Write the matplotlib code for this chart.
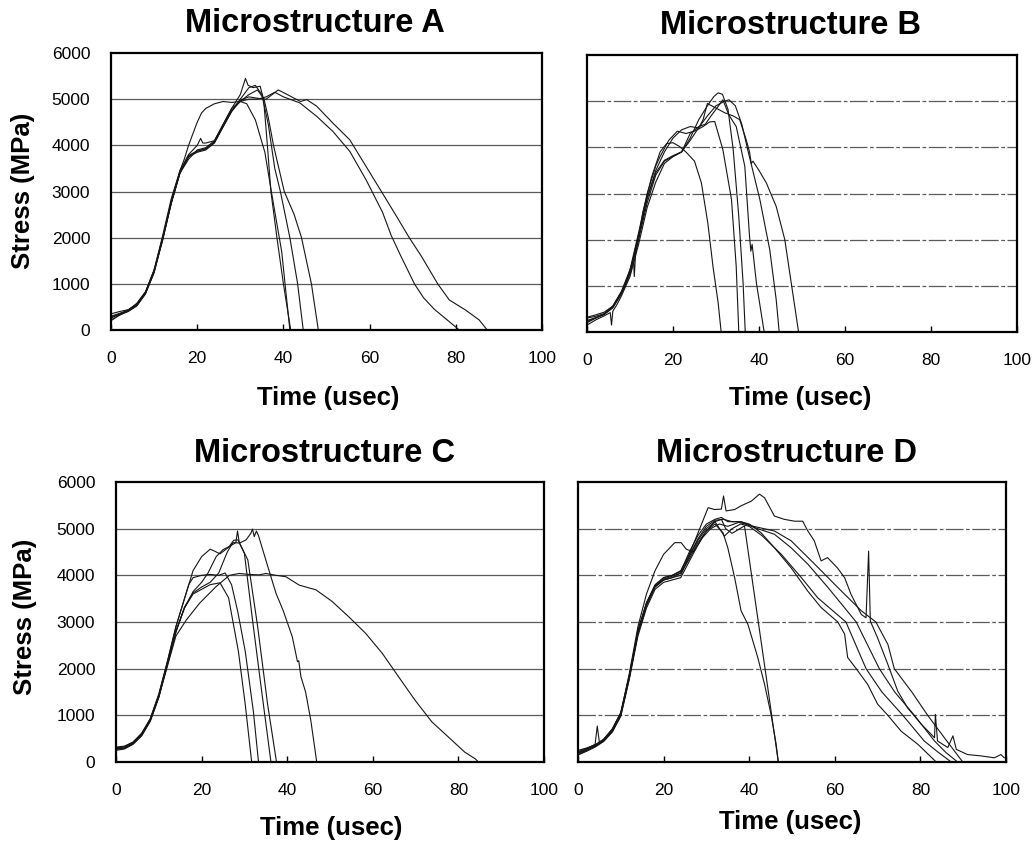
import numpy as np
import matplotlib
matplotlib.use("Agg")
import matplotlib.pyplot as plt

plt.rcParams['font.family'] = ['Liberation Sans', 'DejaVu Sans']

W, H = 1034, 843

# ---- Microstructure A : time (usec) / stress (MPa) per specimen ----
a_time = [
    [0, 2, 4, 6, 8, 10, 12, 14, 16, 17, 18, 19, 20, 21, 22, 24, 26, 28, 30, 31.5, 33.5, 35.7, 37.2, 39.6, 41.5],
    [0, 2, 4, 6, 8, 10, 12, 14, 16, 18, 19, 20, 20.8, 21.3, 22, 24, 26, 28, 30, 31.2, 31.8, 33, 34.6, 35.4, 36.2, 37.1, 38.5, 40, 41.7],
    [0, 2, 4, 6, 8, 10, 12, 14, 16, 18, 20, 22, 24, 26, 28, 30, 32, 33.5, 35, 36.5, 38, 39.3, 41.5, 43.3, 44.6],
    [0, 2, 4, 6, 8, 10, 12, 14, 16, 18, 20, 22, 24, 26, 28, 30, 32, 34, 35.5, 36.5, 37.7, 40.2, 42.5, 44.2, 46.5, 48.1],
    [0, 2, 4, 6, 8, 10, 12, 14, 16, 18, 20, 22, 24, 26, 28, 30, 32, 34, 36, 38, 40, 43.8, 47.7, 51.5, 55.4, 59.2, 63, 65, 67, 70.4, 72.5, 75, 78.5, 80.8],
    [0, 2, 4, 6, 8, 10, 12, 14, 16, 18, 20, 22, 24, 26, 28, 30, 32, 34, 36, 38.8, 40.5, 42.3, 44, 45.4, 47.7, 51.5, 55.4, 59.2, 63, 66, 69.2, 72, 75.8, 78.5, 82.3, 85.4, 87.3],
]
a_stress = [
    [300, 360, 430, 580, 830, 1300, 2050, 2850, 3450, 3700, 4000, 4250, 4500, 4700, 4800, 4900, 4950, 4930, 4950, 4900, 4550, 3850, 3000, 1700, 0],
    [200, 330, 400, 520, 780, 1250, 2000, 2800, 3450, 3800, 3900, 4000, 4150, 4050, 4050, 4100, 4450, 4800, 5100, 5450, 5300, 5250, 5280, 5000, 4100, 3000, 2000, 1000, 0],
    [350, 400, 440, 560, 820, 1300, 2000, 2750, 3400, 3750, 3850, 3900, 4050, 4400, 4750, 5000, 5250, 5300, 5100, 4450, 3500, 3000, 2000, 1000, 0],
    [260, 340, 420, 540, 800, 1280, 1950, 2750, 3400, 3700, 3900, 3950, 4100, 4450, 4800, 4950, 5100, 5200, 5000, 4600, 4000, 3000, 2500, 2000, 1000, 0],
    [280, 350, 430, 560, 810, 1270, 1980, 2780, 3420, 3780, 3880, 3920, 4080, 4420, 4750, 4950, 5000, 5000, 5050, 5150, 5050, 4920, 4630, 4300, 3870, 3250, 2550, 2050, 1650, 1000, 700, 450, 180, 0],
    [220, 320, 410, 540, 790, 1240, 1960, 2760, 3400, 3760, 3870, 3930, 4060, 4400, 4730, 4980, 5050, 5020, 5000, 5200, 5120, 5030, 4950, 4990, 4850, 4480, 4120, 3540, 2960, 2500, 2000, 1600, 1000, 650, 430, 220, 0],
]

# ---- Microstructure B ----
b_time = [
    [0, 2, 4, 6, 8, 9, 10, 10.8, 11, 11.3, 12, 13, 15, 17, 18.5, 20, 21.5, 23, 25, 26.6, 28.1, 29.3, 30.5, 31.2],
    [0, 2, 4, 6, 8, 10, 12, 14, 16, 17, 19, 21, 23, 25, 27, 28.5, 29.7, 31.6, 33.6, 34.7, 35.3],
    [0, 2, 4, 6, 8, 10, 12, 14, 16, 18, 20, 22, 24, 26, 28, 29.5, 30.5, 31.5, 32.8, 34, 35.3, 36.3, 36.8],
    [0, 2, 4, 5.4, 5.7, 6, 7, 8, 10, 12, 14, 16, 18, 20, 22, 24, 26, 27.5, 29, 31, 31.6, 33, 34.7, 36.7, 37.8, 38.1, 38.4, 39.4, 41.2],
    [0, 2, 4, 6, 8, 10, 12, 14, 16, 18, 20, 22, 24, 26, 28, 30, 32, 33, 34.5, 36, 37.5, 40.2, 42.5, 44, 44.7],
    [0, 2, 4, 6, 8, 10, 12, 14, 16, 18, 20, 22, 24, 26, 27, 28, 30, 32, 34, 35.5, 37, 37.8, 38.2, 38.6, 40, 41.7, 44, 46, 47.5, 49.2],
]
b_stress = [
    [200, 300, 380, 550, 850, 1050, 1350, 1600, 1200, 1700, 2050, 2600, 3350, 3900, 4080, 4100, 4020, 3900, 3700, 3230, 2360, 1420, 630, 0],
    [300, 340, 400, 560, 880, 1350, 2150, 3000, 3600, 3800, 4150, 4350, 4300, 4350, 4450, 4550, 4560, 3950, 2870, 1420, 0],
    [250, 310, 380, 520, 820, 1250, 2000, 2800, 3400, 3700, 3800, 3900, 4200, 4600, 4900, 5100, 5180, 5150, 4820, 3950, 2500, 1060, 0],
    [150, 260, 350, 420, 150, 450, 600, 780, 1200, 1900, 2700, 3250, 3650, 3800, 3900, 4300, 4450, 4500, 4700, 4950, 5030, 4700, 4450, 3590, 2070, 1750, 1900, 1060, 0],
    [320, 370, 430, 560, 860, 1300, 2100, 2900, 3450, 3720, 3820, 3900, 4150, 4430, 4680, 4900, 5000, 5030, 4900, 4500, 3900, 2870, 1780, 700, 0],
    [230, 300, 390, 540, 850, 1300, 2050, 2900, 3500, 3900, 4200, 4380, 4450, 4420, 4600, 4950, 4850, 4750, 4680, 4600, 4170, 3900, 3650, 3700, 3500, 3230, 2720, 2000, 1060, 0],
]

# ---- Microstructure C ----
c_time = [
    [0, 2, 4, 6, 8, 10, 12, 14, 16, 18, 20, 22, 24.3, 26.3, 28.6, 30.2, 31.7],
    [0, 2, 4, 6, 8, 10, 12, 14, 16, 17, 18, 20, 22, 24, 25.5, 27, 28.5, 30.2, 32.1, 33.3],
    [0, 2, 4, 6, 8, 10, 12, 14, 16, 18, 20, 22, 24, 26, 27.3, 28, 28.4, 28.8, 30, 31.9, 33.9, 36.2],
    [0, 2, 4, 6, 8, 10, 12, 14, 16, 17, 18, 19, 20, 22, 23, 24.3, 26.3, 27.5, 28.5, 30.8, 33.1, 35.4, 37.5],
    [0, 2, 4, 6, 8, 10, 12, 14, 16, 18, 20, 21.5, 23.4, 25, 26.5, 28, 28.8, 30.4, 31.5, 31.9, 32.3, 32.8, 33.3, 35, 37.4, 39, 41.2, 42.4, 42.7, 43.2, 44.3, 45.5, 46.9],
    [0, 2, 4, 6, 8, 10, 12, 14, 16.4, 19.5, 23.4, 26.5, 28.8, 31, 33.5, 35, 37.4, 39.7, 42.8, 46.7, 50.5, 54.4, 58.3, 62.2, 66, 69.9, 73.8, 77.6, 81.5, 83.9, 84.7],
]
c_stress = [
    [280, 300, 400, 580, 900, 1400, 2100, 2800, 3300, 3600, 3700, 3800, 3840, 3520, 2370, 1230, 0],
    [320, 340, 430, 620, 930, 1450, 2150, 2900, 3500, 3800, 3950, 4000, 4020, 4000, 4050, 3800, 3200, 2370, 1080, 0],
    [250, 280, 380, 560, 870, 1380, 2080, 2780, 3320, 3620, 3750, 3850, 4050, 4500, 4700, 4700, 4950, 4700, 4470, 3040, 1610, 0],
    [300, 330, 420, 600, 920, 1450, 2150, 2900, 3500, 3800, 4100, 4250, 4400, 4560, 4520, 4460, 4600, 4750, 4760, 4330, 2900, 1250, 0],
    [270, 290, 390, 570, 880, 1400, 2100, 2800, 3300, 3650, 3850, 4050, 4400, 4550, 4620, 4700, 4690, 4760, 4900, 4990, 4830, 4950, 4850, 4330, 3610, 3260, 2680, 2150, 2170, 1830, 1500, 900, 0],
    [300, 320, 410, 590, 900, 1400, 2050, 2700, 3040, 3400, 3760, 4000, 4040, 4020, 4010, 4040, 4000, 3970, 3790, 3690, 3440, 3110, 2760, 2330, 1830, 1320, 860, 540, 210, 70, 0],
]

# ---- Microstructure D ----
d_time = [
    [0, 2, 4, 6, 8, 10, 12, 14, 16, 18, 20, 22, 24, 26, 28, 30, 32, 33.9, 35, 36.6, 38.1, 39.7, 42, 43.6, 45.1, 46.3, 46.8],
    [0, 2, 4, 6, 8, 10, 12, 14, 16, 18, 20, 22, 24, 26, 28, 30, 32, 33.5, 34.5, 36, 38.9, 41.2, 44, 46.8],
    [0, 2, 4, 4.5, 5, 6, 8, 10, 12, 14, 16, 18, 20, 22, 24, 26, 28, 30.4, 31.9, 33.5, 34, 34.6, 36.6, 38.1, 40.5, 42.4, 43.6, 45.9, 48.2, 50.6, 52.5, 53.7, 55.2, 56.8, 58.3, 60.6, 62.3, 63.8, 66.2, 67.3, 67.9, 68.3, 70, 72.4, 74.7, 77, 80.2, 83.3, 83.5, 84, 86.4, 87.6, 88.4, 91, 94.2, 97.3, 98.8, 99.6],
    [0, 2, 4, 6, 8, 10, 12, 14, 16, 18, 20, 22.6, 24.1, 25.3, 27, 29, 31, 33, 35, 38, 40, 42.8, 45.9, 49.8, 53.7, 56.8, 60.7, 62.3, 63, 65, 67.7, 70, 72.4, 75.5, 79.4, 83.7],
    [0, 2, 4, 6, 8, 10, 12, 14, 16, 18, 20, 22, 24, 26, 28, 30, 32, 34.2, 36, 38, 40, 43, 47.5, 52.2, 56, 62.6, 67.3, 71, 75.9, 80.9, 84, 87.2],
    [0, 2, 4, 6, 8, 10, 12, 14, 16, 18, 20, 22, 24, 26, 28, 30, 32, 33.5, 35, 37, 39, 42, 45.9, 49.8, 53.7, 58.4, 65, 70.4, 74, 78.6, 83.3, 86, 88.7],
    [0, 2, 4, 6, 8, 10, 12, 14, 16, 18, 20, 22, 24, 26, 28, 30, 32, 34, 36, 38, 41, 45.9, 49.8, 55.3, 60.7, 66.2, 69.6, 72.4, 73.9, 78, 81.7, 85.6, 89.9],
]
d_stress = [
    [180, 250, 330, 450, 650, 1000, 1800, 2750, 3350, 3750, 3900, 3950, 4050, 4350, 4700, 4950, 5100, 4910, 4590, 3950, 3240, 2950, 2240, 1660, 1020, 380, 0],
    [150, 230, 320, 440, 640, 980, 1780, 2700, 3300, 3700, 3850, 3900, 3950, 4300, 4650, 4950, 5150, 5200, 5000, 4900, 5060, 3590, 1810, 0],
    [200, 280, 380, 770, 420, 480, 680, 1050, 1850, 2800, 3400, 3800, 3950, 4000, 4100, 4450, 4900, 5450, 5410, 5420, 5700, 5380, 5410, 5490, 5590, 5740, 5660, 5270, 5200, 5160, 5160, 4950, 4740, 4310, 4380, 4160, 3950, 3590, 3160, 3090, 4520, 3020, 2660, 2090, 1520, 1160, 810, 520, 1020, 450, 310, 560, 270, 160, 130, 90, 160, 90],
    [220, 290, 360, 480, 700, 1050, 1900, 2900, 3600, 4100, 4450, 4700, 4700, 4560, 4500, 4800, 5000, 5100, 5050, 5150, 5100, 4910, 4590, 4160, 3660, 3310, 3000, 2740, 2240, 2000, 1660, 1240, 1000, 660, 380, 0],
    [160, 240, 340, 460, 670, 1020, 1820, 2780, 3380, 3750, 3900, 3950, 4000, 4400, 4750, 5000, 5150, 4840, 5000, 5100, 5050, 4850, 4450, 3950, 3520, 3000, 2000, 1500, 1000, 450, 220, 0],
    [250, 300, 370, 490, 710, 1060, 1870, 2820, 3420, 3780, 3950, 4000, 4080, 4500, 4850, 5100, 5200, 5240, 5150, 5150, 5100, 5000, 4880, 4590, 4240, 3740, 3000, 2000, 1500, 1000, 450, 200, 0],
    [200, 270, 350, 470, 690, 1030, 1840, 2800, 3400, 3770, 3920, 3980, 4050, 4420, 4780, 5050, 5180, 5200, 5150, 5150, 5050, 4950, 4740, 4240, 3740, 3240, 3000, 2520, 2000, 1500, 1000, 520, 0],
]

titles = ["Microstructure A", "Microstructure B", "Microstructure C", "Microstructure D"]
x_ticks = [0, 20, 40, 60, 80, 100]
y_ticks = [0, 1000, 2000, 3000, 4000, 5000, 6000]


def fx(x):
    return x / W


def fy(y):
    return 1 - y / H


fig = plt.figure(figsize=(W / 100, H / 100), dpi=100)

# axes boxes in pixels: left, top, right, bottom
boxes = [(111, 53, 542, 330), (587, 55, 1017, 332), (116, 482, 544, 762), (578, 482, 1006, 762)]
panels = [(a_time, a_stress), (b_time, b_stress), (c_time, c_stress), (d_time, d_stress)]
grid_style = ['-', (0, (14, 2, 3, 2)), '-', (0, (14, 2, 3, 2))]

axes = []
for i, (l, t, r, b) in enumerate(boxes):
    ax = fig.add_axes([fx(l), fy(b), fx(r - l), (b - t) / H])
    times, stress = panels[i]
    for tt, ss in zip(times, stress):
        ax.plot(tt, ss, color='#151515', lw=0.8)
    ax.set_xlim(0, 100)
    ax.set_ylim(0, 6000)
    for g in y_ticks[1:-1]:
        ax.axhline(g, color='#5a5a5a', lw=0.9, ls=grid_style[i], zorder=0)
    ax.set_xticks(x_ticks)
    ax.set_yticks(y_ticks)
    ax.tick_params(axis='x', direction='in', length=4, width=1, pad=15, labelsize=12.5)
    ax.tick_params(axis='y', direction='in', length=0, pad=15, labelsize=12.5)
    if i in (1, 3):
        ax.tick_params(axis='y', labelleft=False)
    for sp in ax.spines.values():
        sp.set_linewidth(1.6)
        sp.set_color('black')
    axes.append(ax)

# titles and axis labels
title_pos = [(315, 23), (791, 25), (325, 453), (787, 453)]
for txt, (x, y) in zip(titles, title_pos):
    fig.text(fx(x), fy(y), txt, ha='center', va='center', fontsize=23.5, fontweight='bold')

xlabel_pos = [(328, 398), (800, 398), (331, 828), (790, 822)]
for x, y in xlabel_pos:
    fig.text(fx(x), fy(y), "Time (usec)", ha='center', va='center', fontsize=18.5, fontweight='bold')

ylabel_pos = [(23, 191), (25, 617)]
for x, y in ylabel_pos:
    fig.text(fx(x), fy(y), "Stress (MPa)", ha='center', va='center', rotation=90,
             fontsize=18.5, fontweight='bold')

fig.savefig("out.png", dpi=100)
